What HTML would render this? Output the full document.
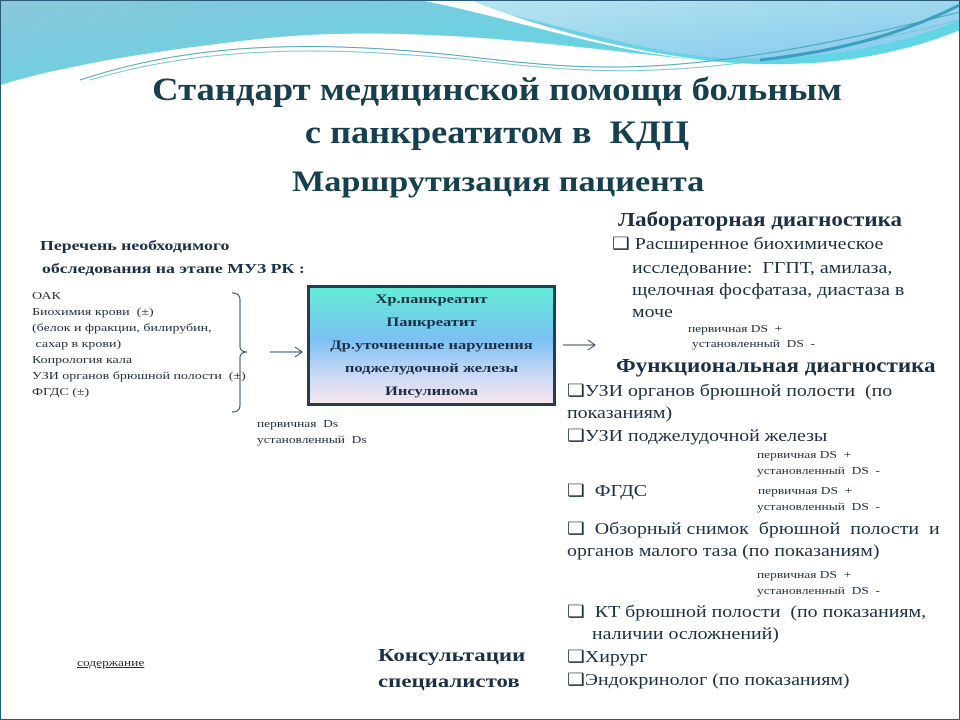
<!DOCTYPE html>
<html><head><meta charset="utf-8"><style>
body{margin:0;width:960px;height:720px;overflow:hidden;background:#fff;font-family:"Liberation Serif",serif;color:#1b2f45;position:relative}
.t{position:absolute;white-space:nowrap;line-height:1;transform-origin:0 0}
.b{font-weight:bold}
.h{color:#17404f;font-weight:bold}
.s{font-size:11px;transform:scaleX(1.22)}
.l{transform:scaleX(1.27)}
.r{font-size:17px;transform:scaleX(1.17)}
.sub{font-size:20px;font-weight:bold;color:#1b2f45;transform:scaleX(1.15)}
.c{transform-origin:50% 0}
</style></head><body>
<svg width="960" height="720" style="position:absolute;left:0;top:0">
<defs>
<linearGradient id="g1" x1="0" y1="0" x2="1" y2="0.6"><stop offset="0" stop-color="#8cc6dc"/><stop offset="0.5" stop-color="#6fd0e0"/><stop offset="1" stop-color="#5ed6e6"/></linearGradient>
<linearGradient id="g2" x1="0" y1="0" x2="1" y2="1"><stop offset="0" stop-color="#b8e6ee"/><stop offset="1" stop-color="#84c8ee"/></linearGradient>
</defs>
<rect x="0" y="0" width="960" height="720" fill="#fff"/>
<path d="M0,0 L960,0 L960,30 C900,55 820,70 720,62 C600,52 420,20 250,40 C120,55 50,70 0,85 Z" fill="url(#g1)"/>
<path d="M430,0 L960,0 L960,20 C900,45 820,62 720,58 C620,50 520,10 430,0 Z" fill="url(#g2)"/>
<path d="M420,0 C520,20 600,50 700,60 L720,62 C610,50 520,20 470,0 Z" fill="#fff"/>
<path d="M80,80 C200,40 330,40 480,58 C600,72 700,78 960,12" fill="none" stroke="#4aa6b8" stroke-width="1"/>
<path d="M90,80 C210,44 340,46 490,62 C610,76 720,80 960,20" fill="none" stroke="#7cc6d0" stroke-width="1"/>
<path d="M760,60 C850,50 910,30 960,5" fill="none" stroke="#3aa0c0" stroke-width="3"/>
<rect x="0.5" y="0.5" width="959" height="719" fill="none" stroke="#2a5a7a" stroke-width="1"/>
<path d="M232,293 Q240,293 240,300 L240,346 Q240,352 247,352 Q240,352 240,358 L240,405 Q240,412 232,412" fill="none" stroke="#2a4a6a" stroke-width="1"/>
<path d="M270,352 L302,352 M295,347 L302,352 L295,357" fill="none" stroke="#2a4a6a" stroke-width="1"/>
<path d="M563,345 L595,345 M588,340 L595,345 L588,350" fill="none" stroke="#2a4a6a" stroke-width="1"/>
</svg>
<div class="t h c" style="left:0;width:994px;text-align:center;top:74px;font-size:33px;transform:scaleX(1.11)">Стандарт медицинской помощи больным</div>
<div class="t h c" style="left:0;width:994px;text-align:center;top:117px;font-size:33px;transform:scaleX(1.1)">с панкреатитом в&nbsp; КДЦ</div>
<div class="t h" style="left:292px;top:167px;font-size:30px;transform:scaleX(1.14)">Маршрутизация пациента</div>

<div class="t b l" style="left:40px;top:240px;font-size:14px">Перечень необходимого</div>
<div class="t b l" style="left:42px;top:263px;font-size:14px">обследования на этапе МУЗ РК :</div>
<div class="t s l" style="left:32px;top:291px">ОАК</div>
<div class="t s l" style="left:32px;top:307px">Биохимия крови&nbsp; (±)</div>
<div class="t s l" style="left:32px;top:323px">(белок и фракции, билирубин,</div>
<div class="t s l" style="left:32px;top:339px">&nbsp;сахар в крови)</div>
<div class="t s l" style="left:32px;top:355px">Копрология кала</div>
<div class="t s l" style="left:32px;top:371px">УЗИ органов брюшной полости&nbsp; (±)</div>
<div class="t s l" style="left:32px;top:387px">ФГДС (±)</div>

<div style="position:absolute;left:307px;top:285px;width:243px;height:115px;border:3px solid #1f3f55;background:linear-gradient(#62ecd6,#7cc0f4 45%,#c8d8f4 75%,#f6e6ee)"></div>
<div class="t b c l" style="left:307px;width:249px;text-align:center;top:292px;font-size:13px">Хр.панкреатит</div>
<div class="t b c l" style="left:307px;width:249px;text-align:center;top:315px;font-size:13px">Панкреатит</div>
<div class="t b c l" style="left:307px;width:249px;text-align:center;top:338px;font-size:13px">Др.уточненные нарушения</div>
<div class="t b c l" style="left:307px;width:249px;text-align:center;top:361px;font-size:13px">поджелудочной железы</div>
<div class="t b c l" style="left:307px;width:249px;text-align:center;top:384px;font-size:13px">Инсулинома</div>

<div class="t s" style="left:257px;top:419px">первичная&nbsp; Ds</div>
<div class="t s" style="left:257px;top:435px">установленный&nbsp; Ds</div>

<div class="t sub" style="left:618px;top:210px">Лабораторная диагностика</div>
<div class="t r" style="left:612px;top:235px">❑ Расширенное биохимическое</div>
<div class="t r" style="left:632px;top:259px">исследование:&nbsp; ГГПТ, амилаза,</div>
<div class="t r" style="left:632px;top:281px">щелочная фосфатаза, диастаза в</div>
<div class="t r" style="left:632px;top:303px">моче</div>
<div class="t s" style="left:688px;top:324px">первичная DS&nbsp; +</div>
<div class="t s" style="left:692px;top:339px">установленный&nbsp; DS&nbsp; -</div>
<div class="t sub" style="left:616px;top:356px">Функциональная диагностика</div>
<div class="t r" style="left:567px;top:382px">❑УЗИ органов брюшной полости&nbsp; (по</div>
<div class="t r" style="left:567px;top:404px">показаниям)</div>
<div class="t r" style="left:567px;top:427px">❑УЗИ поджелудочной железы</div>
<div class="t s" style="left:757px;top:450px">первичная DS&nbsp; +</div>
<div class="t s" style="left:757px;top:466px">установленный&nbsp; DS&nbsp; -</div>
<div class="t r" style="left:567px;top:482px">❑&nbsp; ФГДС</div>
<div class="t s" style="left:758px;top:486px">первичная DS&nbsp; +</div>
<div class="t s" style="left:757px;top:502px">установленный&nbsp; DS&nbsp; -</div>
<div class="t r" style="left:567px;top:520px">❑&nbsp; Обзорный снимок&nbsp; брюшной&nbsp; полости&nbsp; и</div>
<div class="t r" style="left:567px;top:542px">органов малого таза (по показаниям)</div>
<div class="t s" style="left:757px;top:570px">первичная DS&nbsp; +</div>
<div class="t s" style="left:757px;top:586px">установленный&nbsp; DS&nbsp; -</div>
<div class="t r" style="left:567px;top:603px">❑&nbsp; КТ брюшной полости&nbsp; (по показаниям,</div>
<div class="t r" style="left:592px;top:625px">наличии осложнений)</div>
<div class="t r" style="left:567px;top:648px">❑Хирург</div>
<div class="t r" style="left:567px;top:671px">❑Эндокринолог (по показаниям)</div>

<div class="t b l" style="left:378px;top:646px;font-size:18px">Консультации</div>
<div class="t b l" style="left:378px;top:672px;font-size:18px">специалистов</div>
<div class="t s" style="left:77px;top:658px;text-decoration:underline">содержание</div>
</body></html>
